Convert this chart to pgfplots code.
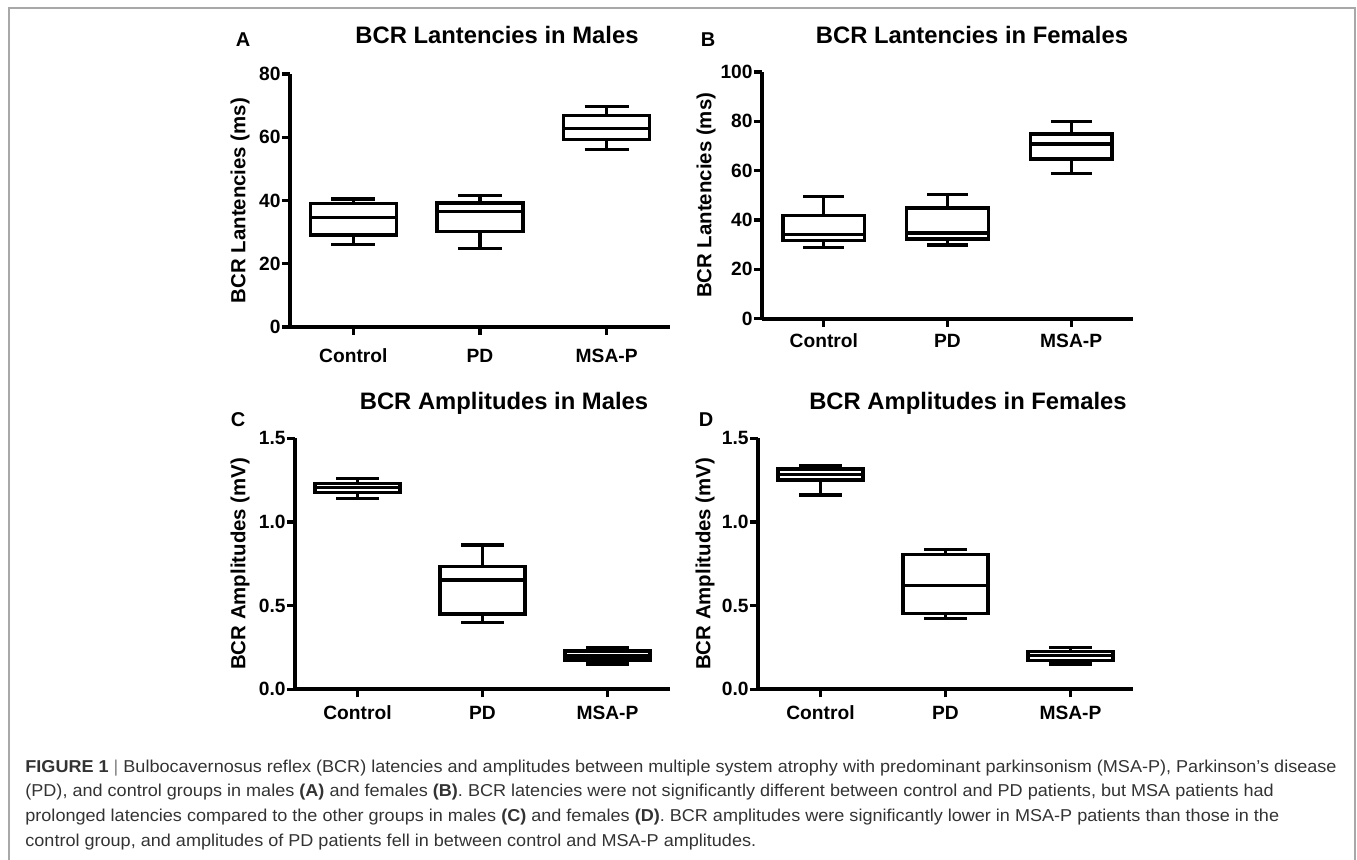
\documentclass[border=0pt]{standalone}
\usepackage{fontspec}
\setmainfont{Liberation Sans}
\newfontfamily\capfont[FakeStretch=1.05]{Liberation Sans}
\usepackage{pgfplots}
\pgfplotsset{compat=1.18}
\usepgfplotslibrary{statistics}
\definecolor{captxt}{HTML}{333333}
\definecolor{framegray}{HTML}{A8A8A8}

\pgfplotsset{
  bcr/.style={
    scale only axis,
    anchor=south west,
    axis lines*=left,
    axis line style={line width=2pt, -},
    xmin=0.5, xmax=3.5,
    xtick={1,2,3},
    xticklabels={Control,PD,MSA-P},
    tick align=outside,
    major tick length=4pt,
    every tick/.style={black, line width=1.6pt},
    tick label style={font=\fontsize{9.6}{10}\selectfont\bfseries},
    yticklabel style={inner xsep=0pt, xshift=-0.5pt},
    /pgf/number format/assume math mode=true,
    every axis y label/.style={at={(axis description cs:0,0.5)}, rotate=90, anchor=center,
      font=\fontsize{10.2}{11}\selectfont\bfseries},
    boxplot/draw direction=y,
    clip=false,
  },
  bx/.style={black, line width=1.6pt, fill=white, solid, mark=none},
}

\begin{document}
\begin{tikzpicture}
\path[use as bounding box] (0,0) rectangle (678.5pt,430pt);
\draw[framegray, line width=0.6pt] (4.5pt,426pt) rectangle (677.5pt,-5pt);

% A: latencies, males
\begin{axis}[bcr, at={(145pt,266.5pt)}, width=190pt, height=126.5pt,
  ymin=0, ymax=80, ytick={0,20,40,60,80},
  ylabel={BCR Lantencies (ms)}, ylabel style={yshift=25pt},
  xticklabel style={anchor=base, yshift=-14pt}]
\addplot[bx, boxplot prepared={draw position=1, lower whisker=26.0, lower quartile=29.1,
  median=34.5, upper quartile=39.0, upper whisker=40.5, box extend=0.68, whisker extend=0.35}] coordinates {};
\addplot[bx, boxplot prepared={draw position=2, lower whisker=24.8, lower quartile=30.3,
  median=36.4, upper quartile=39.2, upper whisker=41.5, box extend=0.68, whisker extend=0.35}] coordinates {};
\addplot[bx, boxplot prepared={draw position=3, lower whisker=56.2, lower quartile=59.3,
  median=62.8, upper quartile=66.8, upper whisker=69.6, box extend=0.68, whisker extend=0.35}] coordinates {};
\end{axis}

% B: latencies, females
\begin{axis}[bcr, at={(381pt,270.65pt)}, width=185.5pt, height=123.35pt,
  ymin=0, ymax=100, ytick={0,20,40,60,80,100},
  ylabel={BCR Lantencies (ms)}, ylabel style={yshift=28pt},
  xticklabel style={anchor=base, yshift=-10.5pt}]
\addplot[bx, boxplot prepared={draw position=1, lower whisker=28.7, lower quartile=31.6,
  median=34.0, upper quartile=41.9, upper whisker=49.6, box extend=0.66, whisker extend=0.33}] coordinates {};
\addplot[bx, boxplot prepared={draw position=2, lower whisker=29.9, lower quartile=32.3,
  median=34.7, upper quartile=44.9, upper whisker=50.4, box extend=0.66, whisker extend=0.33}] coordinates {};
\addplot[bx, boxplot prepared={draw position=3, lower whisker=58.9, lower quartile=64.7,
  median=70.8, upper quartile=74.9, upper whisker=79.9, box extend=0.66, whisker extend=0.33}] coordinates {};
\end{axis}

% C: amplitudes, males
\begin{axis}[bcr, at={(147.5pt,85.35pt)}, width=187.5pt, height=125.5pt,
  ymin=0, ymax=1.5, ytick={0,0.5,1,1.5},
  yticklabel style={/pgf/number format/.cd, fixed, fixed zerofill, precision=1},
  ylabel={BCR Amplitudes (mV)}, ylabel style={yshift=27.5pt},
  xticklabel style={anchor=base, yshift=-11pt}]
\addplot[bx, boxplot prepared={draw position=1, lower whisker=1.142, lower quartile=1.177,
  median=1.205, upper quartile=1.231, upper whisker=1.261, box extend=0.68, whisker extend=0.34}] coordinates {};
\addplot[bx, boxplot prepared={draw position=2, lower whisker=0.400, lower quartile=0.450,
  median=0.653, upper quartile=0.733, upper whisker=0.862, box extend=0.68, whisker extend=0.34}] coordinates {};
\addplot[bx, boxplot prepared={draw position=3, lower whisker=0.151, lower quartile=0.175,
  median=0.199, upper quartile=0.229, upper whisker=0.251, box extend=0.68, whisker extend=0.34}] coordinates {};
\end{axis}

% D: amplitudes, females
\begin{axis}[bcr, at={(379pt,85.35pt)}, width=187.5pt, height=125.5pt,
  ymin=0, ymax=1.5, ytick={0,0.5,1,1.5},
  yticklabel style={/pgf/number format/.cd, fixed, fixed zerofill, precision=1},
  ylabel={BCR Amplitudes (mV)}, ylabel style={yshift=26.5pt},
  xticklabel style={anchor=base, yshift=-11pt}]
\addplot[bx, boxplot prepared={draw position=1, lower whisker=1.161, lower quartile=1.251,
  median=1.285, upper quartile=1.317, upper whisker=1.335, box extend=0.68, whisker extend=0.34}] coordinates {};
\addplot[bx, boxplot prepared={draw position=2, lower whisker=0.422, lower quartile=0.452,
  median=0.621, upper quartile=0.805, upper whisker=0.834, box extend=0.68, whisker extend=0.34}] coordinates {};
\addplot[bx, boxplot prepared={draw position=3, lower whisker=0.151, lower quartile=0.173,
  median=0.200, upper quartile=0.227, upper whisker=0.251, box extend=0.68, whisker extend=0.34}] coordinates {};
\end{axis}

% titles and panel letters
\begin{scope}[every node/.style={font=\fontsize{11.9}{12}\selectfont\bfseries, inner sep=0pt}]
\node at (248.5pt,412.5pt) {BCR Lantencies in Males};
\node at (486pt,412.5pt) {BCR Lantencies in Females};
\node at (252pt,228.5pt) {BCR Amplitudes in Males};
\node at (484pt,228.5pt) {BCR Amplitudes in Females};
\end{scope}
\begin{scope}[every node/.style={font=\fontsize{10}{10}\selectfont\bfseries, inner sep=0pt}]
\node at (121.5pt,410pt) {A};
\node at (354pt,410pt) {B};
\node at (119pt,220pt) {C};
\node at (353pt,220pt) {D};
\end{scope}

% caption
\begin{scope}[every node/.style={anchor=base west, inner sep=0pt, text=captxt,
    font=\capfont\fontsize{8.6}{10}\selectfont}]
\node at (12.5pt,43.5pt) {\textbf{FIGURE 1} {\color{gray}|} Bulbocavernosus reflex (BCR) latencies and amplitudes between multiple system atrophy with predominant parkinsonism (MSA-P), Parkinson’s disease};
\node at (12.5pt,31.5pt) {(PD), and control groups in males \textbf{(A)} and females \textbf{(B)}. BCR latencies were not significantly different between control and PD patients, but MSA patients had};
\node at (12.5pt,19pt) {prolonged latencies compared to the other groups in males \textbf{(C)} and females \textbf{(D)}. BCR amplitudes were significantly lower in MSA-P patients than those in the};
\node at (12.5pt,6.5pt) {control group, and amplitudes of PD patients fell in between control and MSA-P amplitudes.};
\end{scope}
\end{tikzpicture}
\end{document}
